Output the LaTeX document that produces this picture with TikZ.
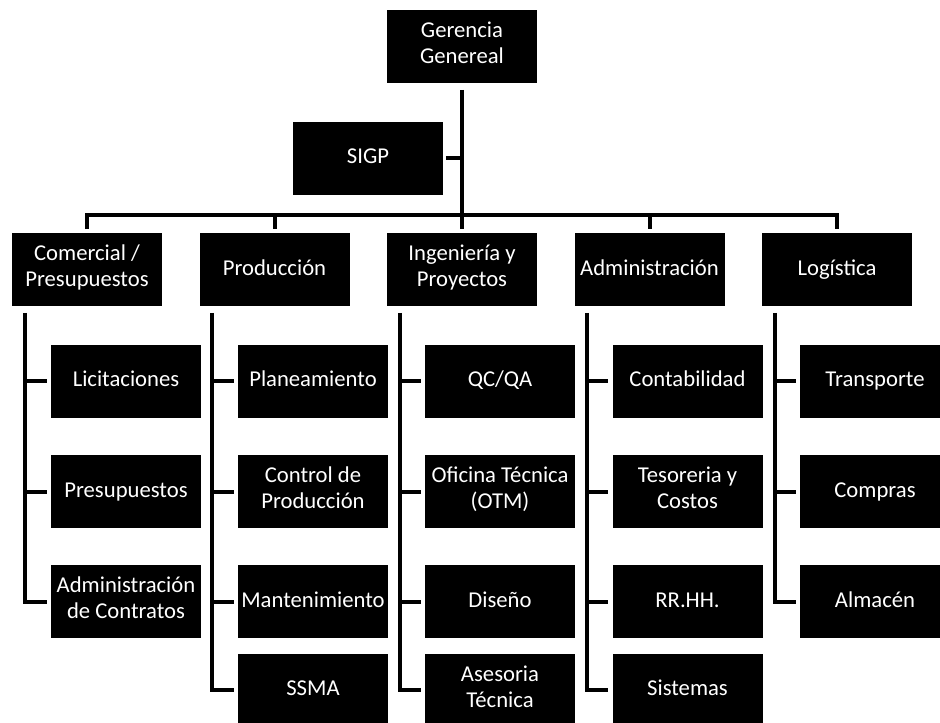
\documentclass[tikz,border=0pt]{standalone}
\usepackage{fontspec}
\setmainfont{Carlito}
\begin{document}
\begin{tikzpicture}[x=0.75pt,y=-0.75pt,
  box/.style={fill=black, text=white, minimum width=112.5pt, minimum height=54.75pt,
    inner sep=0pt, align=center, font=\fontsize{17}{19.5}\selectfont,
    execute at begin node=\strut, execute at end node=\strut},
  conn/.style={line width=3pt, draw=black, line cap=butt},
  stub/.style={conn, shorten >=3pt}]
\useasboundingbox (0,0) rectangle (940,723);
\fill[white] (0,0) rectangle (940,723);
% top
\node[box] (ger) at (462,46.5) {Gerencia\\Genereal};
\node[box] (sigp) at (368,158.5) {SIGP};
% level 2
\node[box] (com) at (87,270) {Comercial /\\Presupuestos};
\node[box] (pro) at (274.5,270) {Producción};
\node[box] (ing) at (462,270) {Ingeniería y\\Proyectos};
\node[box] (adm) at (649.5,270) {Administración};
\node[box] (log) at (837,270) {Logística};
% level 3 Comercial
\node[box] (lic) at (126,381.5) {Licitaciones};
\node[box] (pre) at (126,492) {Presupuestos};
\node[box] (adc) at (126,602) {Administración\\de Contratos};
% Produccion
\node[box] (pla) at (313,381.5) {Planeamiento};
\node[box] (cdp) at (313,492) {Control de\\Producción};
\node[box] (man) at (313,602) {Mantenimiento};
\node[box] (ssm) at (313,690.5) {SSMA};
% Ingenieria
\node[box] (qc) at (500,381.5) {QC/QA};
\node[box] (oft) at (500,492) {Oficina Técnica\\(OTM)};
\node[box] (dis) at (500,602) {Diseño};
\node[box] (ase) at (500,690.5) {Asesoria\\Técnica};
% Administracion
\node[box] (con) at (687.5,381.5) {Contabilidad};
\node[box] (tes) at (687.5,492) {Tesoreria y\\Costos};
\node[box] (rrh) at (687.5,602) {RR.HH.};
\node[box] (sis) at (687.5,690.5) {Sistemas};
% Logistica
\node[box] (tra) at (875,381.5) {Transporte};
\node[box] (cpr) at (875,492) {Compras};
\node[box] (alm) at (875,602) {Almacén};
% connectors top
\coordinate (bar) at (462,215);
\draw[conn, shorten <=5pt, shorten >=3pt] (ger.south) -- (ing.north);
\draw[conn, shorten <=2pt] (sigp.east) -- (sigp.east -| ger.south);
\draw[conn, shorten <=3pt, shorten >=3pt] (com.north) -- (com.north |- bar) -- (log.north |- bar) -- (log.north);
\draw[conn, shorten >=3pt] (pro.north |- bar) -- (pro.north);
\draw[conn, shorten >=3pt] (adm.north |- bar) -- (adm.north);
% branch trunks
\coordinate (comL) at (25,313);
\coordinate (proL) at (212,313);
\coordinate (ingL) at (400,313);
\coordinate (admL) at (587,313);
\coordinate (logL) at (775,313);
\draw[stub] (comL) |- (adc.west);
\draw[stub] (comL |- lic.west) -- (lic.west);
\draw[stub] (comL |- pre.west) -- (pre.west);
\draw[stub] (proL) |- (ssm.west);
\draw[stub] (proL |- pla.west) -- (pla.west);
\draw[stub] (proL |- cdp.west) -- (cdp.west);
\draw[stub] (proL |- man.west) -- (man.west);
\draw[stub] (ingL) |- (ase.west);
\draw[stub] (ingL |- qc.west) -- (qc.west);
\draw[stub] (ingL |- oft.west) -- (oft.west);
\draw[stub] (ingL |- dis.west) -- (dis.west);
\draw[stub] (admL) |- (sis.west);
\draw[stub] (admL |- con.west) -- (con.west);
\draw[stub] (admL |- tes.west) -- (tes.west);
\draw[stub] (admL |- rrh.west) -- (rrh.west);
\draw[stub] (logL) |- (alm.west);
\draw[stub] (logL |- tra.west) -- (tra.west);
\draw[stub] (logL |- cpr.west) -- (cpr.west);
\end{tikzpicture}
\end{document}
